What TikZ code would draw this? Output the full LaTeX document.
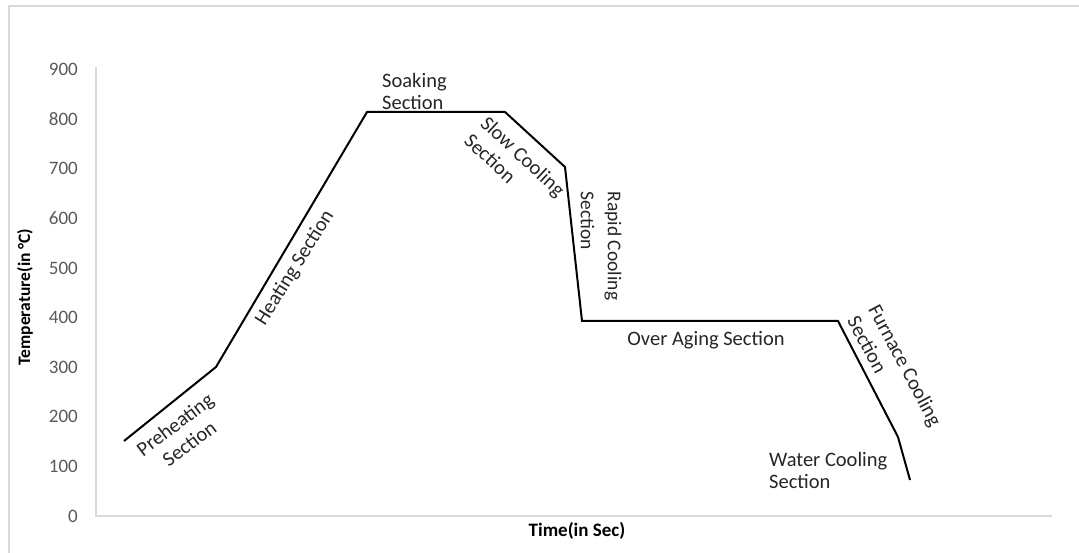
\documentclass[tikz,border=0pt]{standalone}
\usepackage{fontspec}
\setmainfont{Carlito}
\definecolor{gridgray}{HTML}{D9D9D9}
\definecolor{ticktext}{HTML}{595959}
\definecolor{labeltext}{HTML}{262626}
\begin{document}
\begin{tikzpicture}[x=1pt,y=-1pt,
  ticklabel/.style={anchor=east,inner sep=0pt,text=ticktext,font=\fontsize{19}{22}\selectfont},
  seclabel/.style={inner sep=0pt,text=labeltext,font=\fontsize{20.5}{24}\selectfont},
  axistitle/.style={inner sep=0pt,text=black,font=\bfseries\fontsize{19}{22}\selectfont},
  curve/.style={line width=2pt,black,line join=miter}]
\useasboundingbox (0,0) rectangle (1079,553);
% chart frame
\draw[gridgray,line width=1.5pt] (9,560) -- (9,6) -- (1090,6);
% axes
\coordinate (ytop) at (96,67);
\coordinate (orig) at (96,516);
\coordinate (xend) at (1052,516);
\draw[gridgray,line width=1.2pt] (ytop) -- (orig) -- (xend);
% tick labels
\foreach \v [count=\i from 0] in {0,100,200,300,400,500,600,700,800,900}
  \node[ticklabel] (t\i) at (78,{516-49.6*\i}) {\v};
% axis titles
\node[axistitle] (xtitle) at (577,531) {Time(in Sec)};
\node[axistitle,rotate=90,font=\bfseries\fontsize{17.5}{20}\selectfont] (ytitle) at (25,297) {Temperature(in °C)};
% data curve
\coordinate (p1) at (124,441);
\coordinate (p2) at (216,367);
\coordinate (p3) at (367,112);
\coordinate (p4) at (505,112);
\coordinate (p5) at (565,167);
\coordinate (p6) at (582,321);
\coordinate (p7) at (838,321);
\coordinate (p8) at (898,437);
\coordinate (p9) at (910,480);
\draw[curve] (p1) -- (p2) -- (p3) -- (p4) -- (p5) -- (p6) -- (p7) -- (p8) -- (p9);
% section labels
\node[seclabel,align=center,rotate=37] (pre) at (182,434) {Preheating\\Section};
\node[seclabel,rotate=58] (heat) at (295,268) {Heating Section};
\node[seclabel,align=left,anchor=west,font=\fontsize{20.5}{22}\selectfont] (soak) at (382,91) {Soaking\\Section};
\node[seclabel,align=left,rotate=-43] (slow) at (515,165) {Slow Cooling\\Section};
\node[seclabel,align=left,rotate=-90,font=\fontsize{19.5}{27}\selectfont] (rapid) at (601,246) {Rapid Cooling\\Section};
\node[seclabel,anchor=base] (over) at (706,345) {Over Aging Section};
\node[seclabel,align=left,rotate=-62] (furn) at (895,371) {Furnace Cooling\\Section};
\node[seclabel,align=left,anchor=west,font=\fontsize{20.5}{22}\selectfont] (water) at (769,470) {Water Cooling\\Section};
\end{tikzpicture}
\end{document}
